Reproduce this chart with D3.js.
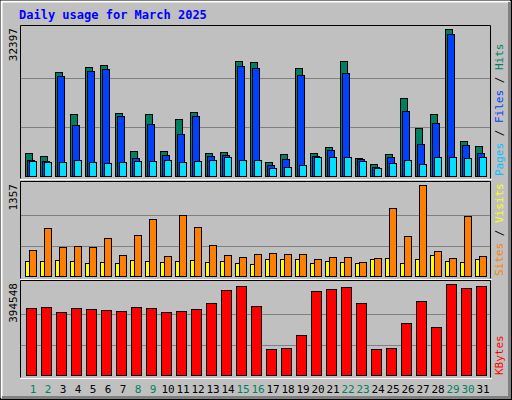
<!DOCTYPE html>
<html><head><meta charset="utf-8">
<script src="https://cdn.jsdelivr.net/npm/d3@7"></script>
<style>body{margin:0;background:#fff}svg{display:block}</style>
</head><body>
<svg id="chart" width="512" height="400"></svg>
<script>
var days = d3.range(1, 32);
var weekend = [1, 2, 8, 9, 15, 16, 22, 23, 29, 30];
var hits = [5069,4408,22922,13665,24024,24464,13885,5510,13665,5510,12563,14106,5069,5290,25346,25126,3086,4849,23803,5069,6392,25346,3967,2645,4849,17191,10579,13665,32397,7714,6612];
var files = [3526,3306,22040,11240,23142,23583,13224,3967,11461,4628,9257,13224,4408,4628,24244,23803,2424,3747,22260,4408,5730,22701,3747,1984,4188,14326,7053,11681,31297,6832,5069];
var pages = [3306,3086,3086,3526,3086,2865,3086,3306,3306,3526,3086,3306,3526,4188,3526,3526,1763,1984,2424,4188,4188,4188,3306,1763,2865,3526,2645,4188,4188,3967,4188];
var visits = [384,723,428,443,428,561,310,605,856,295,915,738,457,310,280,325,339,325,325,251,280,280,207,266,1018,590,1357,369,266,900,295];
var sites = [221,221,236,221,192,207,192,236,221,207,221,236,207,221,192,177,251,251,251,192,221,207,192,251,266,192,251,310,221,207,251];
var kbytes = [290491,294828,273149,290491,286156,281820,277485,294828,290491,273149,277485,286156,312170,368535,385877,299163,112728,117064,173428,364199,372870,381542,312170,112728,117064,225456,320841,208114,394548,377206,385877];

var svg = d3.select("#chart");
var mono = "'DejaVu Sans Mono', monospace";

// frame
svg.append("rect").attr("width", 512).attr("height", 400).attr("fill", "#c0c0c0");
svg.append("rect").attr("x", 0.5).attr("y", 0.5).attr("width", 511).attr("height", 399).attr("fill", "none").attr("stroke", "#000");
svg.append("path").attr("d", "M1.5,398V1.5H510").attr("fill", "none").attr("stroke", "#fff").attr("stroke-width", 2);
svg.append("path").attr("d", "M2,397.5H509.5V2").attr("fill", "none").attr("stroke", "#808080").attr("stroke-width", 3);

svg.append("text").attr("x", 19).attr("y", 19).attr("font-family", mono).attr("font-weight", "bold")
  .attr("font-size", 12).attr("fill", "#0000ff").text("Daily usage for March 2025");

var x = d3.scaleBand().domain(days).range([21, 486]).padding(0);

var panels = [
  { top: 26, bottom: 176, max: d3.max(hits), series: [
      { data: hits, color: "#008060", off: 4, w: 7 },
      { data: files, color: "#0040ff", off: 6, w: 7 },
      { data: pages, color: "#00e0ff", off: 8, w: 7 }],
    labels: [["Pages", "#00c0ff"], [" / ", "#000"], ["Files", "#0040ff"], [" / ", "#000"], ["Hits", "#008060"]] },
  { top: 182, bottom: 276, max: d3.max(visits), series: [
      { data: sites, color: "#ffff00", off: 4, w: 4 },
      { data: visits, color: "#ff8000", off: 8, w: 7 }],
    labels: [["Sites", "#ff8000"], [" / ", "#000"], ["Visits", "#ffff00"]] },
  { top: 281, bottom: 375, max: d3.max(kbytes), series: [
      { data: kbytes, color: "#ff0000", off: 5, w: 10 }],
    labels: [["KBytes", "#ff0000"]] }
];

panels.forEach(function (p) {
  var y = d3.scaleLinear().domain([0, p.max]).range([p.bottom, p.bottom - (p.bottom - p.top - 3)]);
  var g = svg.append("g");
  g.selectAll("line.grid").data([p.max / 3, p.max * 2 / 3]).enter().append("line")
    .attr("x1", 21).attr("x2", 490).attr("y1", function (d) { return Math.round(y(d)) + 0.5; })
    .attr("y2", function (d) { return Math.round(y(d)) + 0.5; }).attr("stroke", "#808080");
  p.series.forEach(function (s) {
    g.selectAll(null).data(s.data).enter().append("rect")
      .attr("x", function (d, i) { return x(days[i]) + s.off + 0.5; })
      .attr("y", function (d) { return Math.round(y(d)) + 0.5; })
      .attr("width", s.w)
      .attr("height", function (d) { return p.bottom - Math.round(y(d)); })
      .attr("fill", s.color).attr("stroke", "#000");
  });
  g.append("path").attr("d", "M20.5," + (p.bottom + 2.5) + "V" + (p.top - 0.5) + "H490.5V" + (p.bottom + 2.5))
    .attr("fill", "none").attr("stroke", "#000");
  g.append("line").attr("x1", 20).attr("x2", 492).attr("y1", p.bottom + 3.5).attr("y2", p.bottom + 3.5).attr("stroke", "#fff");
  g.append("text").attr("transform", "translate(17," + (p.top + 2) + ") rotate(-90)")
    .attr("text-anchor", "end").attr("font-family", mono).attr("font-size", 11).text(d3.format("d")(p.max));
  var t = g.append("text").attr("transform", "translate(503," + (p.bottom) + ") rotate(-90)")
    .attr("font-family", mono).attr("font-size", 11);
  t.selectAll("tspan").data(p.labels).enter().append("tspan")
    .attr("fill", function (d) { return d[1]; }).text(function (d) { return d[0]; }).attr("xml:space", "preserve");
});

svg.selectAll("text.day").data(days).enter().append("text")
  .attr("x", function (d) { return x(d) + 12; }).attr("y", 393)
  .attr("text-anchor", "middle").attr("font-family", mono).attr("font-size", 11)
  .attr("fill", function (d) { return weekend.indexOf(d) >= 0 ? "#008060" : "#000"; })
  .text(function (d) { return d; });
</script>
</body></html>
